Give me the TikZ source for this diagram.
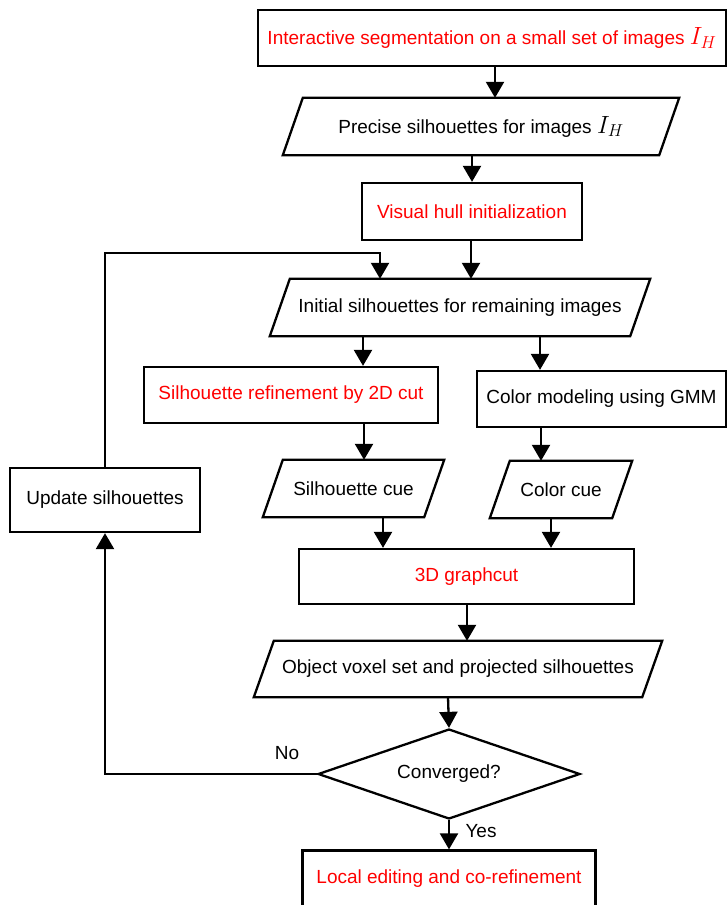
\documentclass[tikz,border=0pt]{standalone}
\usepackage{fontspec}
\setmainfont{Liberation Sans}
\usetikzlibrary{arrows.meta,shapes.geometric}
\definecolor{redtxt}{RGB}{255,0,0}
\tikzset{
  line/.style={line width=2.3pt, line join=miter},
  arr/.style={line width=2.3pt, -{Triangle[width=18pt,length=16pt]}},
  rbox/.style={draw, line width=2.3pt, rectangle, inner sep=0pt, font=\fontsize{19}{22}\selectfont},
  pnode/.style={rectangle, inner sep=0pt, font=\fontsize{19}{22}\selectfont},
  lbl/.style={inner sep=0pt, font=\fontsize{19}{22}\selectfont},
  dnode/.style={draw, line width=2.3pt, shape=diamond, shape aspect=3, inner sep=0pt, font=\fontsize{19}{22}\selectfont},
}
\newcommand{\ihsym}{{\fontsize{25}{25}\selectfont$I_H$}}
\newcommand{\paradraw}[2]{%
  \draw[line] ([xshift=#2]#1.north west) -- ([xshift=#2]#1.north east) -- ([xshift=-#2]#1.south east) -- ([xshift=-#2]#1.south west) -- cycle;}
\begin{document}
\begin{tikzpicture}[x=1pt,y=-1pt]
\useasboundingbox (0,0) rectangle (727,905);

% rectangles
\node[rbox, minimum width=468pt, minimum height=56pt, text=redtxt] (top) at (492,38) {Interactive segmentation on a small set of images \ihsym};
\node[rbox, minimum width=220pt, minimum height=57pt, text=redtxt] (vh) at (472,211.5) {Visual hull initialization};
\node[rbox, minimum width=294pt, minimum height=56pt, text=redtxt] (sr) at (291,395) {Silhouette refinement by 2D cut};
\node[rbox, minimum width=249pt, minimum height=56pt] (cm) at (601.5,399) {Color modeling using GMM};
\node[rbox, minimum width=335pt, minimum height=55pt, text=redtxt] (gc) at (466.5,576.5) {3D graphcut};
\node[rbox, minimum width=190pt, minimum height=64pt] (upd) at (105,500) {Update silhouettes};
\node[rbox, minimum width=293pt, minimum height=57pt, text=redtxt] (loc) at (449,879) {Local editing and co-refinement};

% parallelograms
\node[pnode, minimum width=376pt, minimum height=57pt] (p2) at (481,126.5) {Precise silhouettes for images \ihsym};
\paradraw{p2}{10pt}
\node[pnode, minimum width=360pt, minimum height=57pt] (p4) at (460,307.5) {Initial silhouettes for remaining images};
\paradraw{p4}{10pt}
\node[pnode, minimum width=161pt, minimum height=57pt] (sc) at (353.5,488.5) {Silhouette cue};
\paradraw{sc}{10pt}
\node[pnode, minimum width=122pt, minimum height=57pt] (cc) at (561,489.5) {Color cue};
\paradraw{cc}{10pt}
\node[pnode, minimum width=388pt, minimum height=56pt] (ov) at (458,669) {Object voxel set and projected silhouettes};
\paradraw{ov}{10pt}

% decision
\node[dnode, minimum width=262pt, minimum height=90pt] (dia) at (449,774) {Converged?};

% labels
\node[lbl] (no) at (287,753) {No};
\node[lbl] (yes) at (481,831) {Yes};

% connectors
\draw[arr] ([xshift=3pt]top.south) -- ([xshift=14pt]p2.north);
\draw[arr] ([xshift=-9pt]p2.south) -- (vh.north);
\draw[arr] ([xshift=-1pt]vh.south) -- ([xshift=11pt]p4.north);
\draw[arr] ([xshift=-97pt]p4.south) -- ([xshift=72pt]sr.north);
\draw[arr] ([xshift=80pt]p4.south) -- ([xshift=-61.5pt]cm.north);
\draw[arr] ([xshift=73pt]sr.south) -- ([xshift=10.5pt]sc.north);
\draw[arr] ([xshift=-60.5pt]cm.south) -- ([xshift=-20pt]cc.north);
\draw[arr] ([xshift=29.5pt]sc.south) -- ([xshift=-83.5pt]gc.north);
\draw[arr] ([xshift=-10pt]cc.south) -- ([xshift=84.5pt]gc.north);
\draw[arr] ([xshift=0.5pt]gc.south) -- ([xshift=9pt]ov.north);
\draw[arr] ([xshift=-10pt]ov.south) -- (dia.north);
\draw[arr] (dia.south) -- (loc.north);
\coordinate (fb) at (380,253);
\draw[arr] (upd.north) |- (fb) -- (fb |- p4.north);
\draw[arr] (dia.west) -| (upd.south);
\end{tikzpicture}
\end{document}
